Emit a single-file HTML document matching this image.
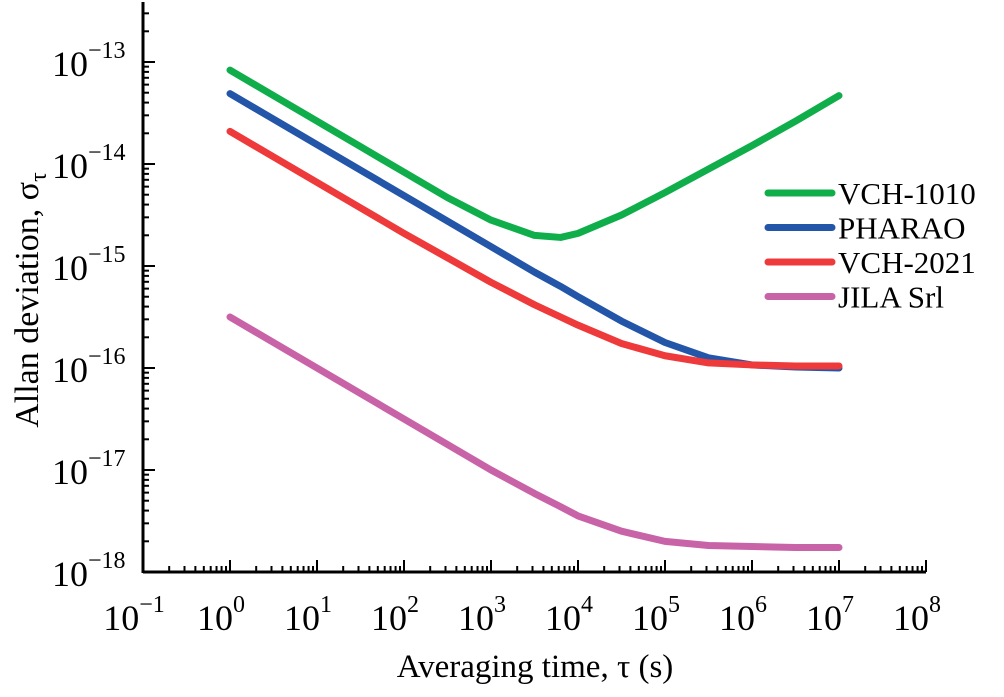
<!DOCTYPE html>
<html><head><meta charset="utf-8"><style>
body{margin:0;background:#fff}
svg text{font-family:"Liberation Serif",serif;fill:#000}
</style></head><body>
<svg width="1004" height="692" viewBox="0 0 1004 692">
<g id="axes"></g>
<g id="series"></g>
<g id="legend"></g>
<text x="535" y="677" font-size="33" text-anchor="middle">Averaging time, τ (s)</text>
<text transform="translate(38,300) rotate(-90)" font-size="34" text-anchor="middle">Allan deviation, σ<tspan font-size="24" dy="8">τ</tspan></text>
</svg>
<script>
const logTau = [0,0.5,1,1.5,2,2.5,3,3.5,3.8,4,4.5,5,5.5,6,6.5,7];
const vch1010 = [-13.08,-13.33,-13.58,-13.83,-14.08,-14.33,-14.55,-14.70,-14.72,-14.68,-14.50,-14.28,-14.05,-13.82,-13.58,-13.33];
const pharao  = [-13.31,-13.56,-13.81,-14.06,-14.31,-14.56,-14.81,-15.06,-15.20,-15.30,-15.54,-15.75,-15.90,-15.97,-15.99,-16.00];
const vch2021 = [-13.68,-13.93,-14.18,-14.43,-14.68,-14.92,-15.16,-15.38,-15.50,-15.58,-15.76,-15.88,-15.95,-15.97,-15.98,-15.98];
const jila    = [-15.50,-15.75,-16.00,-16.25,-16.50,-16.75,-17.00,-17.23,-17.36,-17.45,-17.60,-17.70,-17.74,-17.75,-17.76,-17.76];
const xTicks = [-1,0,1,2,3,4,5,6,7,8];
const yTicks = [-13,-14,-15,-16,-17,-18];
const seriesNames = ["VCH-1010","PHARAO","VCH-2021","JILA Srl"];
const seriesColors = ["#0fae4b","#2356a8","#ee3a3a","#c963a8"];
const seriesData = [vch1010,pharao,vch2021,jila];

const NS="http://www.w3.org/2000/svg";
const X0=143, XD=87, Y0=572, YD=102;
const xs=v=>X0+(v+1)*XD;
const ys=v=>Y0-(v+18)*YD;
function mk(tag,attrs,parent){const e=document.createElementNS(NS,tag);for(const k in attrs)e.setAttribute(k,attrs[k]);parent.appendChild(e);return e;}
const axes=document.getElementById('axes');
let a=mk('line',{x1:X0,y1:Y0,x2:xs(8),y2:Y0,stroke:'#000','stroke-width':3},axes);


a=mk('line',{x1:X0,y1:Y0+1,x2:X0,y2:2,stroke:'#000','stroke-width':3},axes);


for(let d=-1;d<8;d++){for(let m=1;m<=10;m++){const x=xs(d+Math.log10(m));const L=(m===10)?12:6;
 const t=mk('line',{x1:x,y1:Y0,x2:x,y2:Y0-L,stroke:'#000','stroke-width':2},axes);
 
 }}
xTicks.forEach(v=>{const t=mk('text',{x:xs(v)-9,y:Y0+58,'font-size':36,'text-anchor':'middle'},axes);
 
 
 t.innerHTML='10<tspan font-size="24" dy="-18">'+(v<0?'−'+(-v):v)+'</tspan>';});
for(let d=-18;d<-12;d++){for(let m=1;m<=10;m++){const y=ys(d+Math.log10(m));if(y<2)continue;const L=(m===1)?12:6;
 const t=mk('line',{x1:X0,y1:y,x2:X0+L,y2:y,stroke:'#000','stroke-width':2},axes);
 
 }}
yTicks.forEach(v=>{const t=mk('text',{x:52,y:ys(v)+14,'font-size':36},axes);
 
 
 t.innerHTML='10<tspan font-size="24" dy="-18">−'+(-v)+'</tspan>';});
const sg=document.getElementById('series');
seriesData.forEach((arr,i)=>{const p=mk('polyline',{points:arr.map((v,j)=>xs(logTau[j])+','+ys(v)).join(' '),fill:'none',stroke:seriesColors[i],'stroke-width':7,'stroke-linecap':'round','stroke-linejoin':'round'},sg);
 
 });
const lg=document.getElementById('legend');
seriesNames.forEach((n,i)=>{const y=193+i*34.5;
 const l=mk('line',{x1:768,y1:y,x2:832,y2:y,stroke:seriesColors[i],'stroke-width':7,'stroke-linecap':'round'},lg);
 
 
 const t=mk('text',{x:838,y:y+11,'font-size':31},lg);
 
 
 t.textContent=n;});
</script>
</body></html>
